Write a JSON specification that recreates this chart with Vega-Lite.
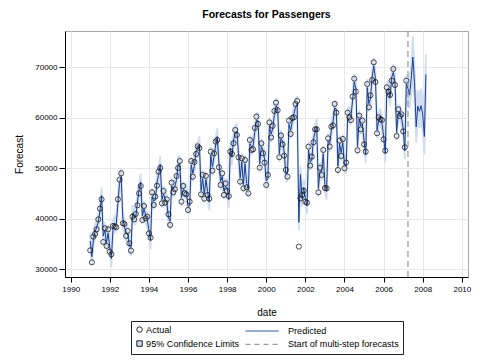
{
  "$schema": "https://vega.github.io/schema/vega-lite/v6.json",
  "autosize": "none",
  "width": 403,
  "height": 246,
  "padding": {"left": 65, "top": 31, "right": 12, "bottom": 83},
  "background": "white",
  "title": {"text": "Forecasts for Passengers", "fontSize": 10.5, "fontWeight": "bold", "anchor": "middle", "offset": 10, "color": "#000", "font": "Liberation Sans"},
  "config": {
    "font": "Liberation Sans",
    "view": {"stroke": "#a8a8a8"},
    "axis": {"domainColor": "#000", "tickColor": "#000", "labelColor": "#000", "titleColor": "#000", "labelFontSize": 8, "titleFontSize": 10, "titleFontWeight": "normal", "gridColor": "#e8e8e8", "tickSize": 5}
  },
  "data": {"values": [
    {"d":"1991-01-01","a":33760,"p":35600,"lo":34100,"hi":37100},
    {"d":"1991-02-01","a":31390,"p":32500,"lo":31000,"hi":34000},
    {"d":"1991-03-01","a":36470,"p":35900,"lo":34400,"hi":37400},
    {"d":"1991-04-01","a":37000,"p":37400,"lo":35900,"hi":38900},
    {"d":"1991-05-01","a":37920,"p":38300,"lo":36800,"hi":39800},
    {"d":"1991-06-01","a":39900,"p":39400,"lo":37900,"hi":40900},
    {"d":"1991-07-01","a":42010,"p":41500,"lo":40000,"hi":43000},
    {"d":"1991-08-01","a":43860,"p":44600,"lo":43100,"hi":46100},
    {"d":"1991-09-01","a":35410,"p":36600,"lo":35100,"hi":38100},
    {"d":"1991-10-01","a":38120,"p":37700,"lo":36200,"hi":39200},
    {"d":"1991-11-01","a":34620,"p":35300,"lo":33800,"hi":36800},
    {"d":"1991-12-01","a":37920,"p":37200,"lo":35700,"hi":38700},
    {"d":"1992-01-01","a":33500,"p":34400,"lo":32900,"hi":35900},
    {"d":"1992-02-01","a":32970,"p":32100,"lo":30600,"hi":33600},
    {"d":"1992-03-01","a":38580,"p":38000,"lo":36500,"hi":39500},
    {"d":"1992-04-01","a":38450,"p":39100,"lo":37600,"hi":40600},
    {"d":"1992-05-01","a":38320,"p":38900,"lo":37400,"hi":40400},
    {"d":"1992-06-01","a":43860,"p":43100,"lo":41600,"hi":44600},
    {"d":"1992-07-01","a":47750,"p":47000,"lo":45500,"hi":48500},
    {"d":"1992-08-01","a":49010,"p":48400,"lo":46900,"hi":49900},
    {"d":"1992-09-01","a":39110,"p":40000,"lo":38500,"hi":41500},
    {"d":"1992-10-01","a":38980,"p":38400,"lo":36900,"hi":39900},
    {"d":"1992-11-01","a":36600,"p":37200,"lo":35700,"hi":38700},
    {"d":"1992-12-01","a":37590,"p":37000,"lo":35500,"hi":38500},
    {"d":"1993-01-01","a":35150,"p":34600,"lo":33100,"hi":36100},
    {"d":"1993-02-01","a":33700,"p":34300,"lo":32800,"hi":35800},
    {"d":"1993-03-01","a":40430,"p":41100,"lo":39600,"hi":42600},
    {"d":"1993-04-01","a":39900,"p":40500,"lo":39000,"hi":42000},
    {"d":"1993-05-01","a":40960,"p":40400,"lo":38900,"hi":41900},
    {"d":"1993-06-01","a":42670,"p":43300,"lo":41800,"hi":44800},
    {"d":"1993-07-01","a":45050,"p":45800,"lo":44300,"hi":47300},
    {"d":"1993-08-01","a":46500,"p":47300,"lo":45800,"hi":48800},
    {"d":"1993-09-01","a":39770,"p":40600,"lo":39100,"hi":42100},
    {"d":"1993-10-01","a":42540,"p":41900,"lo":40400,"hi":43400},
    {"d":"1993-11-01","a":40100,"p":40700,"lo":39200,"hi":42200},
    {"d":"1993-12-01","a":40430,"p":39800,"lo":38300,"hi":41300},
    {"d":"1994-01-01","a":37130,"p":37800,"lo":36300,"hi":39300},
    {"d":"1994-02-01","a":36270,"p":35600,"lo":34100,"hi":37100},
    {"d":"1994-03-01","a":45250,"p":44400,"lo":42900,"hi":45900},
    {"d":"1994-04-01","a":42740,"p":43500,"lo":42000,"hi":45000},
    {"d":"1994-05-01","a":44390,"p":43800,"lo":42300,"hi":45300},
    {"d":"1994-06-01","a":46570,"p":47200,"lo":45700,"hi":48700},
    {"d":"1994-07-01","a":49340,"p":48700,"lo":47200,"hi":50200},
    {"d":"1994-08-01","a":50060,"p":50800,"lo":49300,"hi":52300},
    {"d":"1994-09-01","a":43070,"p":43800,"lo":42300,"hi":45300},
    {"d":"1994-10-01","a":45510,"p":44900,"lo":43400,"hi":46400},
    {"d":"1994-11-01","a":43200,"p":43900,"lo":42400,"hi":45400},
    {"d":"1994-12-01","a":43860,"p":43300,"lo":41800,"hi":44800},
    {"d":"1995-01-01","a":40890,"p":40200,"lo":38700,"hi":41700},
    {"d":"1995-02-01","a":38780,"p":39500,"lo":38000,"hi":41000},
    {"d":"1995-03-01","a":47160,"p":46500,"lo":45000,"hi":48000},
    {"d":"1995-04-01","a":45250,"p":45900,"lo":44400,"hi":47400},
    {"d":"1995-05-01","a":45840,"p":46400,"lo":44900,"hi":47900},
    {"d":"1995-06-01","a":48480,"p":47800,"lo":46300,"hi":49300},
    {"d":"1995-07-01","a":50060,"p":50800,"lo":49300,"hi":52300},
    {"d":"1995-08-01","a":51450,"p":50900,"lo":49400,"hi":52400},
    {"d":"1995-09-01","a":43400,"p":44200,"lo":42700,"hi":45700},
    {"d":"1995-10-01","a":46500,"p":45800,"lo":44300,"hi":47300},
    {"d":"1995-11-01","a":45050,"p":45600,"lo":44100,"hi":47100},
    {"d":"1995-12-01","a":44850,"p":45400,"lo":43900,"hi":46900},
    {"d":"1996-01-01","a":41750,"p":42500,"lo":41000,"hi":44000},
    {"d":"1996-02-01","a":43400,"p":42600,"lo":41100,"hi":44100},
    {"d":"1996-03-01","a":51450,"p":50700,"lo":49200,"hi":52200},
    {"d":"1996-04-01","a":48350,"p":49000,"lo":47500,"hi":50500},
    {"d":"1996-05-01","a":51250,"p":50600,"lo":49100,"hi":52100},
    {"d":"1996-06-01","a":52840,"p":53500,"lo":52000,"hi":55000},
    {"d":"1996-07-01","a":54350,"p":53700,"lo":52200,"hi":55200},
    {"d":"1996-08-01","a":54000,"p":54700,"lo":53200,"hi":56200},
    {"d":"1996-09-01","a":44850,"p":45600,"lo":44100,"hi":47100},
    {"d":"1996-10-01","a":48700,"p":48000,"lo":46500,"hi":49500},
    {"d":"1996-11-01","a":44000,"p":44800,"lo":43300,"hi":46300},
    {"d":"1996-12-01","a":48500,"p":47800,"lo":46300,"hi":49300},
    {"d":"1997-01-01","a":44720,"p":45400,"lo":43900,"hi":46900},
    {"d":"1997-02-01","a":44000,"p":43300,"lo":41800,"hi":44800},
    {"d":"1997-03-01","a":53300,"p":52600,"lo":51100,"hi":54100},
    {"d":"1997-04-01","a":49540,"p":50300,"lo":48800,"hi":51800},
    {"d":"1997-05-01","a":52970,"p":52300,"lo":50800,"hi":53800},
    {"d":"1997-06-01","a":55280,"p":54600,"lo":53100,"hi":56100},
    {"d":"1997-07-01","a":55600,"p":56300,"lo":54800,"hi":57800},
    {"d":"1997-08-01","a":50200,"p":51000,"lo":49500,"hi":52500},
    {"d":"1997-09-01","a":46700,"p":47400,"lo":45900,"hi":48900},
    {"d":"1997-10-01","a":49000,"p":48400,"lo":46900,"hi":49900},
    {"d":"1997-11-01","a":44720,"p":45500,"lo":44000,"hi":47000},
    {"d":"1997-12-01","a":47000,"p":46400,"lo":44900,"hi":47900},
    {"d":"1998-01-01","a":45500,"p":46200,"lo":44700,"hi":47700},
    {"d":"1998-02-01","a":44500,"p":43800,"lo":42300,"hi":45300},
    {"d":"1998-03-01","a":53300,"p":54000,"lo":52500,"hi":55500},
    {"d":"1998-04-01","a":52840,"p":52200,"lo":50700,"hi":53700},
    {"d":"1998-05-01","a":54950,"p":55600,"lo":54100,"hi":57100},
    {"d":"1998-06-01","a":57590,"p":56900,"lo":55400,"hi":58400},
    {"d":"1998-07-01","a":56600,"p":57300,"lo":55800,"hi":58800},
    {"d":"1998-08-01","a":52180,"p":52900,"lo":51400,"hi":54400},
    {"d":"1998-09-01","a":47360,"p":48100,"lo":46600,"hi":49600},
    {"d":"1998-10-01","a":51980,"p":51300,"lo":49800,"hi":52800},
    {"d":"1998-11-01","a":46040,"p":46800,"lo":45300,"hi":48300},
    {"d":"1998-12-01","a":51650,"p":50900,"lo":49400,"hi":52400},
    {"d":"1999-01-01","a":46240,"p":47000,"lo":45500,"hi":48500},
    {"d":"1999-02-01","a":45050,"p":45800,"lo":44300,"hi":47300},
    {"d":"1999-03-01","a":55610,"p":54900,"lo":53400,"hi":56400},
    {"d":"1999-04-01","a":53630,"p":54300,"lo":52800,"hi":55800},
    {"d":"1999-05-01","a":53760,"p":54400,"lo":52900,"hi":55900},
    {"d":"1999-06-01","a":58000,"p":57300,"lo":55800,"hi":58800},
    {"d":"1999-07-01","a":60230,"p":59500,"lo":58000,"hi":61000},
    {"d":"1999-08-01","a":58780,"p":59400,"lo":57900,"hi":60900},
    {"d":"1999-09-01","a":50130,"p":50900,"lo":49400,"hi":52400},
    {"d":"1999-10-01","a":54950,"p":54300,"lo":52800,"hi":55800},
    {"d":"1999-11-01","a":52970,"p":53600,"lo":52100,"hi":55100},
    {"d":"1999-12-01","a":51120,"p":51800,"lo":50300,"hi":53300},
    {"d":"2000-01-01","a":46700,"p":47500,"lo":46000,"hi":49000},
    {"d":"2000-02-01","a":48700,"p":48000,"lo":46500,"hi":49500},
    {"d":"2000-03-01","a":59100,"p":58400,"lo":56900,"hi":59900},
    {"d":"2000-04-01","a":56100,"p":56800,"lo":55300,"hi":58300},
    {"d":"2000-05-01","a":58400,"p":57800,"lo":56300,"hi":59300},
    {"d":"2000-06-01","a":61350,"p":60700,"lo":59200,"hi":62200},
    {"d":"2000-07-01","a":63000,"p":62300,"lo":60800,"hi":63800},
    {"d":"2000-08-01","a":61500,"p":62100,"lo":60600,"hi":63600},
    {"d":"2000-09-01","a":52200,"p":52900,"lo":51400,"hi":54400},
    {"d":"2000-10-01","a":56500,"p":55900,"lo":54400,"hi":57400},
    {"d":"2000-11-01","a":54750,"p":55400,"lo":53900,"hi":56900},
    {"d":"2000-12-01","a":52500,"p":53200,"lo":51700,"hi":54700},
    {"d":"2001-01-01","a":49670,"p":48900,"lo":47400,"hi":50400},
    {"d":"2001-02-01","a":48350,"p":49000,"lo":47500,"hi":50500},
    {"d":"2001-03-01","a":59440,"p":58700,"lo":57200,"hi":60200},
    {"d":"2001-04-01","a":56800,"p":57500,"lo":56000,"hi":59000},
    {"d":"2001-05-01","a":59960,"p":59300,"lo":57800,"hi":60800},
    {"d":"2001-06-01","a":60100,"p":60800,"lo":59300,"hi":62300},
    {"d":"2001-07-01","a":62740,"p":62100,"lo":60600,"hi":63600},
    {"d":"2001-08-01","a":63330,"p":62700,"lo":61200,"hi":64200},
    {"d":"2001-09-01","a":34490,"p":39300,"lo":37800,"hi":40800},
    {"d":"2001-10-01","a":44060,"p":48800,"lo":47300,"hi":50300},
    {"d":"2001-11-01","a":44710,"p":44000,"lo":42500,"hi":45500},
    {"d":"2001-12-01","a":45560,"p":46200,"lo":44700,"hi":47700},
    {"d":"2002-01-01","a":43390,"p":44100,"lo":42600,"hi":45600},
    {"d":"2002-02-01","a":43190,"p":42600,"lo":41100,"hi":44100},
    {"d":"2002-03-01","a":54290,"p":53600,"lo":52100,"hi":55100},
    {"d":"2002-04-01","a":50530,"p":51200,"lo":49700,"hi":52700},
    {"d":"2002-05-01","a":52310,"p":51700,"lo":50200,"hi":53200},
    {"d":"2002-06-01","a":55150,"p":55800,"lo":54300,"hi":57300},
    {"d":"2002-07-01","a":57720,"p":57100,"lo":55600,"hi":58600},
    {"d":"2002-08-01","a":57720,"p":58300,"lo":56800,"hi":59800},
    {"d":"2002-09-01","a":45250,"p":46000,"lo":44500,"hi":47500},
    {"d":"2002-10-01","a":50130,"p":49500,"lo":48000,"hi":51000},
    {"d":"2002-11-01","a":48680,"p":49300,"lo":47800,"hi":50800},
    {"d":"2002-12-01","a":53630,"p":52900,"lo":51400,"hi":54400},
    {"d":"2003-01-01","a":46100,"p":46800,"lo":45300,"hi":48300},
    {"d":"2003-02-01","a":46040,"p":45400,"lo":43900,"hi":46900},
    {"d":"2003-03-01","a":55940,"p":55300,"lo":53800,"hi":56800},
    {"d":"2003-04-01","a":54290,"p":54900,"lo":53400,"hi":56400},
    {"d":"2003-05-01","a":58250,"p":57600,"lo":56100,"hi":59100},
    {"d":"2003-06-01","a":58500,"p":59200,"lo":57700,"hi":60700},
    {"d":"2003-07-01","a":62740,"p":62000,"lo":60500,"hi":63500},
    {"d":"2003-08-01","a":61020,"p":61700,"lo":60200,"hi":63200},
    {"d":"2003-09-01","a":49670,"p":50400,"lo":48900,"hi":51900},
    {"d":"2003-10-01","a":55480,"p":54900,"lo":53400,"hi":56400},
    {"d":"2003-11-01","a":52440,"p":53100,"lo":51600,"hi":54600},
    {"d":"2003-12-01","a":55810,"p":55100,"lo":53600,"hi":56600},
    {"d":"2004-01-01","a":50000,"p":50700,"lo":49200,"hi":52200},
    {"d":"2004-02-01","a":51120,"p":50500,"lo":49000,"hi":52000},
    {"d":"2004-03-01","a":61020,"p":60300,"lo":58800,"hi":61800},
    {"d":"2004-04-01","a":60100,"p":60800,"lo":59300,"hi":62300},
    {"d":"2004-05-01","a":59570,"p":60200,"lo":58700,"hi":61700},
    {"d":"2004-06-01","a":64190,"p":63500,"lo":62000,"hi":65000},
    {"d":"2004-07-01","a":67750,"p":67100,"lo":65600,"hi":68600},
    {"d":"2004-08-01","a":65180,"p":65800,"lo":64300,"hi":67300},
    {"d":"2004-09-01","a":53560,"p":54300,"lo":52800,"hi":55800},
    {"d":"2004-10-01","a":60430,"p":59800,"lo":58300,"hi":61300},
    {"d":"2004-11-01","a":57720,"p":58400,"lo":56900,"hi":59900},
    {"d":"2004-12-01","a":59440,"p":58800,"lo":57300,"hi":60300},
    {"d":"2005-01-01","a":54750,"p":55400,"lo":53900,"hi":56900},
    {"d":"2005-02-01","a":53300,"p":52700,"lo":51200,"hi":54200},
    {"d":"2005-03-01","a":66700,"p":66000,"lo":64500,"hi":67500},
    {"d":"2005-04-01","a":62080,"p":62800,"lo":61300,"hi":64300},
    {"d":"2005-05-01","a":64450,"p":63800,"lo":62300,"hi":65300},
    {"d":"2005-06-01","a":67490,"p":68100,"lo":66600,"hi":69600},
    {"d":"2005-07-01","a":70990,"p":70300,"lo":68800,"hi":71800},
    {"d":"2005-08-01","a":67090,"p":67800,"lo":66300,"hi":69300},
    {"d":"2005-09-01","a":56930,"p":57600,"lo":56100,"hi":59100},
    {"d":"2005-10-01","a":60100,"p":59500,"lo":58000,"hi":61000},
    {"d":"2005-11-01","a":59700,"p":60300,"lo":58800,"hi":61800},
    {"d":"2005-12-01","a":59570,"p":58900,"lo":57400,"hi":60400},
    {"d":"2006-01-01","a":55740,"p":56400,"lo":54900,"hi":57900},
    {"d":"2006-02-01","a":53500,"p":52900,"lo":51400,"hi":54400},
    {"d":"2006-03-01","a":66040,"p":65400,"lo":63900,"hi":66900},
    {"d":"2006-04-01","a":65180,"p":65800,"lo":64300,"hi":67300},
    {"d":"2006-05-01","a":64520,"p":63900,"lo":62400,"hi":65400},
    {"d":"2006-06-01","a":67360,"p":68000,"lo":66500,"hi":69500},
    {"d":"2006-07-01","a":69670,"p":69000,"lo":67500,"hi":70500},
    {"d":"2006-08-01","a":66500,"p":67200,"lo":65700,"hi":68700},
    {"d":"2006-09-01","a":56400,"p":57100,"lo":55600,"hi":58600},
    {"d":"2006-10-01","a":61680,"p":61000,"lo":59500,"hi":62500},
    {"d":"2006-11-01","a":60360,"p":61000,"lo":59500,"hi":62500},
    {"d":"2006-12-01","a":60690,"p":60000,"lo":58500,"hi":61500},
    {"d":"2007-01-01","a":57320,"p":57900,"lo":56400,"hi":59400},
    {"d":"2007-02-01","a":54160,"p":53500,"lo":52000,"hi":55000},
    {"d":"2007-03-01","a":67360,"p":66700,"lo":65200,"hi":68200},
    {"d":"2007-04-01","p":65800,"lo":63400,"hi":68200},
    {"d":"2007-05-01","p":64500,"lo":61900,"hi":67100},
    {"d":"2007-06-01","p":67800,"lo":64900,"hi":70700},
    {"d":"2007-07-01","p":72000,"lo":68000,"hi":76000},
    {"d":"2007-08-01","p":67000,"lo":63600,"hi":70400},
    {"d":"2007-09-01","p":58200,"lo":55200,"hi":61200},
    {"d":"2007-10-01","p":62300,"lo":59200,"hi":65400},
    {"d":"2007-11-01","p":61300,"lo":58100,"hi":64500},
    {"d":"2007-12-01","p":62400,"lo":59100,"hi":65700},
    {"d":"2008-01-01","p":60800,"lo":57400,"hi":64200},
    {"d":"2008-02-01","p":56300,"lo":52800,"hi":59800},
    {"d":"2008-03-01","p":68600,"lo":64800,"hi":72400}
  ]},
  "encoding": {
    "x": {
      "field": "d", "type": "temporal", "title": "date",
      "scale": {"type": "utc", "domain": [{"year": 1989, "month": 9, "date": 17, "utc": true}, {"year": 2010, "month": 4, "date": 26, "utc": true}]},
      "axis": {
        "values": [{"year": 1990, "utc": true}, {"year": 1992, "utc": true}, {"year": 1994, "utc": true}, {"year": 1996, "utc": true}, {"year": 1998, "utc": true}, {"year": 2000, "utc": true}, {"year": 2002, "utc": true}, {"year": 2004, "utc": true}, {"year": 2006, "utc": true}, {"year": 2008, "utc": true}, {"year": 2010, "utc": true}],
        "format": "%Y", "grid": true, "labelPadding": 3, "titlePadding": 14, "tickSize": 5, "labelFlush": false, "labelOverlap": false
      }
    }
  },
  "layer": [
    {
      "mark": {"type": "area", "color": "#cddbf0", "opacity": 0.9, "stroke": "#cddbf0", "strokeWidth": 1.8, "strokeJoin": "round"},
      "encoding": {
        "y": {"field": "lo", "type": "quantitative", "title": "Forecast",
          "scale": {"domain": [28475, 77190], "nice": false, "zero": false},
          "axis": {"values": [30000, 40000, 50000, 60000, 70000], "format": "d", "grid": true, "tickSize": 6, "labelPadding": 2, "titlePadding": 10}},
        "y2": {"field": "hi"}
      }
    },
    {
      "mark": {"type": "line", "color": "#1a3f95", "strokeWidth": 1},
      "encoding": {"y": {"field": "p", "type": "quantitative", "title": "Forecast"}}
    },
    {
      "mark": {"type": "point", "filled": false, "color": "#1a1a1a", "size": 26, "strokeWidth": 0.8, "opacity": 1},
      "encoding": {"y": {"field": "a", "type": "quantitative", "title": "Forecast"}}
    },
    {
      "data": {"values": [{"d": "2007-04-01"}]},
      "mark": {"type": "rule", "color": "#808080", "strokeDash": [6, 4], "strokeWidth": 1},
      "encoding": {}
    },
    {
      "data": {"values": [
        {"lgB": "Predicted", "d": "2000-01-01", "v": 50000},
        {"lgB": "Start of multi-step forecasts", "d": "2000-02-01", "v": 50000}
      ]},
      "mark": {"type": "line", "opacity": 0, "strokeWidth": 1},
      "encoding": {
        "y": {"field": "v", "type": "quantitative", "title": "Forecast"},
        "strokeDash": {
          "field": "lgB", "type": "nominal",
          "scale": {"domain": ["Predicted", "Start of multi-step forecasts"], "range": [[1, 0], [5, 4]]},
          "legend": {"title": "0000000000000000000", "titleOrient": "left", "titleColor": "transparent", "titleFontSize": 10, "titlePadding": 4,
            "orient": "none", "legendX": 66, "legendY": 290, "padding": 4, "strokeColor": "#222", "rowPadding": 1.3,
            "labelFontSize": 9.1, "labelColor": "#000", "labelFont": "Liberation Sans", "labelOffset": 31,
            "symbolSize": 121, "symbolStrokeWidth": 1, "symbolOpacity": 1, "symbolType": "M-1,0H5"}
        },
        "stroke": {
          "field": "lgB", "type": "nominal",
          "scale": {"domain": ["Predicted", "Start of multi-step forecasts"], "range": ["#1a3f95", "#808080"]},
          "legend": {"title": "0000000000000000000", "titleOrient": "left", "titleColor": "transparent", "titleFontSize": 10, "titlePadding": 4,
            "orient": "none", "legendX": 66, "legendY": 290, "padding": 4, "strokeColor": "#222", "rowPadding": 1.3,
            "labelFontSize": 9.1, "labelColor": "#000", "labelFont": "Liberation Sans", "labelOffset": 31,
            "symbolSize": 121, "symbolStrokeWidth": 1, "symbolOpacity": 1, "symbolType": "M-1,0H5"}
        }
      }
    },
    {
      "data": {"values": [
        {"lgA": "Actual", "d": "2000-01-01", "v": 50000},
        {"lgA": "95% Confidence Limits", "d": "2000-01-01", "v": 50000}
      ]},
      "mark": {"type": "point", "filled": false, "color": "#222222", "stroke": "#222222", "strokeWidth": 1, "opacity": 0},
      "encoding": {
        "y": {"field": "v", "type": "quantitative", "title": "Forecast"},
        "shape": {
          "field": "lgA", "type": "nominal",
          "scale": {"domain": ["Actual", "95% Confidence Limits"], "range": ["circle", "square"]},
          "legend": {"title": null, "orient": "none", "legendX": 66, "legendY": 290, "padding": 4, "rowPadding": 3,
            "labelFontSize": 9.1, "labelColor": "#000", "labelFont": "Liberation Sans", "labelOffset": 2,
            "symbolSize": 30, "symbolStrokeWidth": 1, "symbolOpacity": 1}
        },
        "fill": {
          "field": "lgA", "type": "nominal",
          "scale": {"domain": ["Actual", "95% Confidence Limits"], "range": ["transparent", "#cddbf0"]},
          "legend": {"title": null, "orient": "none", "legendX": 66, "legendY": 290, "padding": 4, "rowPadding": 3,
            "labelFontSize": 9.1, "labelColor": "#000", "labelFont": "Liberation Sans", "labelOffset": 2,
            "symbolSize": 30, "symbolStrokeWidth": 1, "symbolOpacity": 1}
        }
      }
    }
  ]
}
